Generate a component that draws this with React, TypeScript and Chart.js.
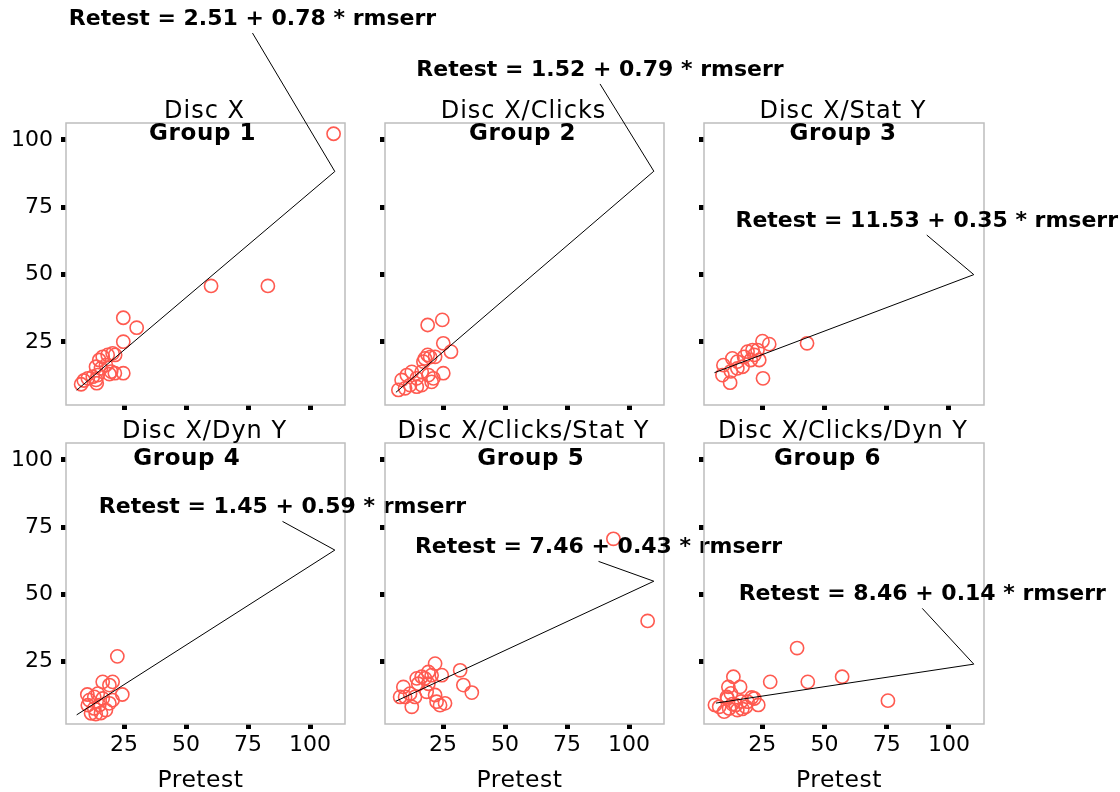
import React, { useEffect, useRef } from 'react';
import { Chart, registerables } from 'chart.js';

Chart.register(...registerables);

// ---------- data ----------
const panelTitles = ['Disc X', 'Disc X/Clicks', 'Disc X/Stat Y', 'Disc X/Dyn Y', 'Disc X/Clicks/Stat Y', 'Disc X/Clicks/Dyn Y'];
const groupNames = ['Group 1', 'Group 2', 'Group 3', 'Group 4', 'Group 5', 'Group 6'];
const groupLabelX = [56.7, 57.1, 57.5, 50.3, 60.4, 51.2];
const groupLabelY = [100.0, 100.0, 100.0, 98.1, 98.1, 98.1];

const equations = [
  'Retest = 2.51 + 0.78 * rmserr',
  'Retest = 1.52 + 0.79 * rmserr',
  'Retest = 11.53 + 0.35 * rmserr',
  'Retest = 1.45 + 0.59 * rmserr',
  'Retest = 7.46 + 0.43 * rmserr',
  'Retest = 8.46 + 0.14 * rmserr',
];
const eqLabelX = [76.8, 88.3, 91.1, 88.9, 87.7, 89.3];
const eqLabelY = [144.9, 126.0, 69.9, 82.3, 67.4, 49.9];

const fitStartX = [5.9, 6.0, 5.8, 5.9, 6.0, 6.4];
const fitStartY = [7.1, 6.3, 13.6, 5.0, 10.1, 9.4];
const fitEndX = [110, 110, 110, 110, 110, 110];
const fitEndY = [88.3, 88.4, 50.0, 66.4, 54.8, 23.9];

const xTicks = [25, 50, 75, 100];
const yTicks = [25, 50, 75, 100];
const xLabel = 'Pretest';

const g1x = [7.7, 8.8, 10.4, 12.4, 13.7, 14.0, 14.4, 13.7, 15.7, 17.7, 15.0, 16.4, 18.4, 20.4, 21.4, 19.8, 19.1, 21.3, 24.7, 24.7, 24.7, 30.1, 60.1, 83.0, 109.5];
const g1y = [9.3, 10.7, 11.5, 12.1, 10.9, 9.7, 12.7, 15.8, 15.2, 16.4, 18.3, 19.5, 20.2, 20.8, 20.2, 14.0, 13.1, 13.4, 13.4, 25.1, 34.0, 30.3, 45.8, 45.8, 102.3];

const g2x = [7.0, 8.3, 9.7, 10.4, 11.7, 12.4, 14.4, 14.4, 16.4, 16.4, 17.1, 17.7, 18.8, 19.1, 19.8, 21.1, 20.4, 21.8, 25.1, 25.1, 28.2, 18.8, 24.7];
const g2y = [7.2, 10.9, 7.8, 12.7, 9.0, 13.9, 11.5, 8.4, 13.9, 9.0, 17.7, 18.9, 20.2, 12.7, 19.4, 11.5, 10.2, 19.5, 13.4, 24.5, 21.4, 31.3, 33.2];

const g3x = [9.0, 9.4, 12.1, 12.4, 13.0, 15.0, 15.0, 17.1, 17.7, 19.1, 20.4, 21.1, 21.8, 23.1, 23.8, 25.1, 27.8, 25.3, 43.0];
const g3y = [12.7, 16.4, 9.9, 14.1, 18.9, 17.7, 15.2, 15.8, 19.5, 21.4, 18.3, 22.0, 20.2, 22.0, 18.3, 25.3, 24.2, 11.5, 24.5];

const g4x = [10.2, 11.0, 11.7, 10.4, 13.0, 13.0, 13.6, 14.4, 15.0, 15.7, 16.4, 16.4, 17.7, 19.1, 19.1, 20.4, 20.4, 22.3, 24.3];
const g4y = [12.6, 10.5, 5.6, 8.6, 11.7, 7.4, 5.3, 12.9, 8.6, 5.7, 11.1, 17.3, 6.8, 16.1, 9.3, 17.3, 10.5, 26.8, 12.6];

const g5x = [7.7, 9.0, 9.7, 11.7, 12.4, 13.7, 14.4, 15.0, 16.4, 17.7, 18.4, 19.1, 19.1, 20.4, 21.8, 21.8, 22.4, 23.8, 24.5, 25.8, 31.9, 33.2, 36.6, 93.7, 107.5];
const g5y = [11.7, 15.4, 11.7, 12.9, 8.0, 11.7, 18.6, 16.6, 19.2, 18.6, 13.6, 21.0, 16.6, 19.8, 24.1, 12.4, 9.9, 8.6, 19.8, 9.3, 21.6, 16.1, 13.3, 70.6, 40.0];

const g6x = [6.0, 7.7, 9.7, 10.8, 11.0, 11.4, 11.7, 13.4, 14.4, 15.0, 16.1, 18.4, 19.1, 20.8, 21.8, 23.4, 12.4, 17.0, 28.2, 39.0, 43.3, 57.1, 75.5, 13.0, 16.5];
const g6y = [8.7, 8.0, 6.2, 11.7, 11.1, 15.4, 7.4, 19.2, 8.7, 6.8, 15.4, 8.0, 9.9, 11.5, 11.1, 8.7, 13.0, 7.2, 17.3, 29.9, 17.3, 19.2, 10.3, 9.0, 10.0];

const groupXs = [g1x, g2x, g3x, g4x, g5x, g6x];
const groupYs = [g1y, g2y, g3y, g4y, g5y, g6y];

// ---------- layout / style ----------
const W = 1120;
const H = 792;
const panelBoxes = [
  { l: 66, t: 123, r: 345, b: 405 },
  { l: 385, t: 123, r: 664, b: 405 },
  { l: 704, t: 123, r: 984, b: 405 },
  { l: 66, t: 443, r: 345, b: 724 },
  { l: 385, t: 443, r: 664, b: 724 },
  { l: 704, t: 443, r: 984, b: 724 },
];
const Y_AXIS_W = 60;
const X_AXIS_H = 40;
const X_MIN = 1.6, X_MAX = 114.1, Y_MIN = 1.6, Y_MAX = 106.3;
const POINT_COLOR = '#FF5A50';
const FONT = '"DejaVu Sans", "Noto Sans", sans-serif';

const decorPlugin = {
  id: 'panelDecor',
  beforeDatasetsDraw(chart: any) {
    const { ctx, chartArea: ca } = chart;
    ctx.save();
    ctx.strokeStyle = '#bdbdbd';
    ctx.lineWidth = 1.5;
    ctx.strokeRect(ca.left, ca.top, ca.right - ca.left, ca.bottom - ca.top);
    ctx.restore();
  },
  afterDraw(chart: any, _a: any, o: any) {
    const { ctx, chartArea: ca, scales } = chart;
    const xs = scales.x, ys = scales.y;
    ctx.save();
    ctx.fillStyle = '#000';
    ctx.textAlign = 'center';
    // panel title
    ctx.font = `24px ${FONT}`;
    (ctx as any).letterSpacing = '1px';
    ctx.textBaseline = 'alphabetic';
    ctx.fillText(o.title, (ca.left + ca.right) / 2 - 1, ca.top - 5.5);
    // group name
    ctx.font = `bold 23px ${FONT}`;
    (ctx as any).letterSpacing = '0.6px';
    ctx.fillText(o.group, xs.getPixelForValue(o.groupX), ys.getPixelForValue(o.groupY));
    // x axis title
    if (o.showXTitle) {
      ctx.font = `23.5px ${FONT}`;
      (ctx as any).letterSpacing = '0.5px';
      ctx.fillText(o.xTitle, (ca.left + ca.right) / 2 - 5, ca.bottom + 62.5);
    }
    // equation label with leader segment
    (ctx as any).letterSpacing = '0px';
    ctx.font = `bold 22px ${FONT}`;
    ctx.textBaseline = 'middle';
    const lx = xs.getPixelForValue(o.labelX);
    const ly = ys.getPixelForValue(o.labelY);
    ctx.fillText(o.label, lx, ly);
    ctx.strokeStyle = '#000';
    ctx.lineWidth = 1;
    ctx.beginPath();
    ctx.moveTo(lx, ly + 14);
    ctx.lineTo(xs.getPixelForValue(o.endX), ys.getPixelForValue(o.endY));
    ctx.stroke();
    ctx.restore();
  },
};

function Panel({ idx }: { idx: number }) {
  const ref = useRef<HTMLCanvasElement | null>(null);
  useEffect(() => {
    if (!ref.current) return;
    const box = panelBoxes[idx];
    const showY = idx % 3 === 0;
    const showX = idx >= 3;
    const pts = groupXs[idx].map((x, i) => ({ x, y: groupYs[idx][i] }));
    const chart = new Chart(ref.current, {
      type: 'scatter',
      data: {
        datasets: [
          {
            type: 'line',
            data: [
              { x: fitStartX[idx], y: fitStartY[idx] },
              { x: fitEndX[idx], y: fitEndY[idx] },
            ],
            borderColor: '#000',
            borderWidth: 1,
            pointRadius: 0,
            fill: false,
          } as any,
          {
            type: 'scatter',
            data: pts,
            pointRadius: 6.6,
            pointBorderWidth: 1.6,
            borderColor: POINT_COLOR,
            pointBorderColor: POINT_COLOR,
            backgroundColor: 'rgba(0,0,0,0)',
            pointBackgroundColor: 'rgba(0,0,0,0)',
          } as any,
        ],
      },
      options: {
        animation: false,
        responsive: false,
        maintainAspectRatio: false,
        events: [],
        layout: {
          padding: {
            left: box.l - Y_AXIS_W,
            top: box.t,
            right: W - box.r,
            bottom: H - box.b - X_AXIS_H,
          },
        },
        plugins: {
          legend: { display: false },
          tooltip: { enabled: false },
          panelDecor: {
            title: panelTitles[idx],
            group: groupNames[idx],
            groupX: groupLabelX[idx],
            groupY: groupLabelY[idx],
            label: equations[idx],
            labelX: eqLabelX[idx],
            labelY: eqLabelY[idx],
            endX: fitEndX[idx],
            endY: fitEndY[idx],
            showXTitle: showX,
            xTitle: xLabel,
          },
        } as any,
        scales: {
          x: {
            type: 'linear',
            min: X_MIN,
            max: X_MAX,
            afterFit: (s: any) => { s.height = X_AXIS_H; },
            afterBuildTicks: (s: any) => { s.ticks = xTicks.map((v) => ({ value: v })); },
            ticks: {
              display: showX,
              color: '#000',
              font: { family: FONT, size: 22 },
              padding: 3,
              maxRotation: 0,
              autoSkip: false,
            },
            grid: {
              drawOnChartArea: false,
              drawTicks: true,
              tickLength: 5,
              tickWidth: 5,
              tickColor: '#000',
              color: '#000',
            },
            border: { display: false },
          },
          y: {
            type: 'linear',
            min: Y_MIN,
            max: Y_MAX,
            afterFit: (s: any) => { s.width = Y_AXIS_W; },
            afterBuildTicks: (s: any) => { s.ticks = yTicks.map((v) => ({ value: v })); },
            ticks: {
              display: showY,
              color: '#000',
              font: { family: FONT, size: 22 },
              padding: 8,
              autoSkip: false,
            },
            grid: {
              drawOnChartArea: false,
              drawTicks: true,
              tickLength: 5,
              tickWidth: 5,
              tickColor: '#000',
              color: '#000',
            },
            border: { display: false },
          },
        },
      } as any,
      plugins: [decorPlugin as any],
    });
    return () => chart.destroy();
  }, [idx]);
  return (
    <canvas
      ref={ref}
      width={W}
      height={H}
      style={{ position: 'absolute', left: 0, top: 0, width: W, height: H, pointerEvents: 'none' }}
    />
  );
}

export default function App() {
  return (
    <div style={{ position: 'fixed', left: 0, top: 0, width: W, height: H, background: '#fff', overflow: 'hidden' }}>
      {[0, 1, 2, 3, 4, 5].map((i) => (
        <Panel key={i} idx={i} />
      ))}
    </div>
  );
}
